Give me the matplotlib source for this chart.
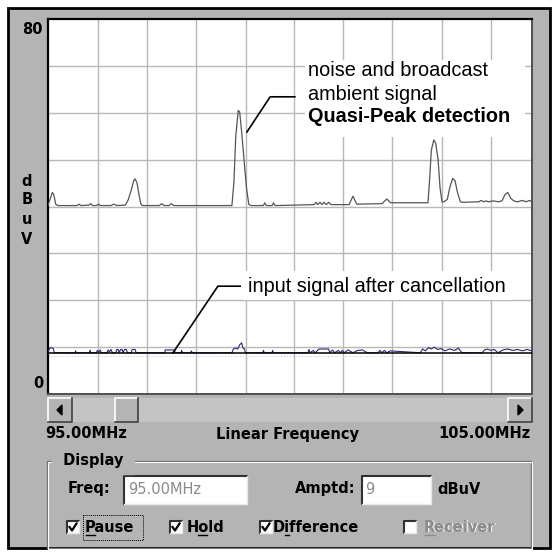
import matplotlib.pyplot as plt
from matplotlib.patches import Rectangle, Polygon

# ---- data (frequency in MHz, level in dBuV) ----
freq_upper = [95.00, 95.04, 95.09, 95.12, 95.16, 95.20, 95.60, 95.64, 95.68, 95.85,
              95.88, 95.92, 96.00, 96.05, 96.08, 96.30, 96.36, 96.42, 96.60, 96.66,
              96.72, 96.77, 96.80, 96.84, 96.88, 96.92, 96.95, 97.30, 97.35, 97.40,
              97.50, 97.55, 97.60, 98.80, 98.84, 98.88, 98.93, 98.96, 99.00, 99.05,
              99.10, 99.15, 99.20, 99.45, 99.48, 99.51, 99.63, 99.66, 99.69, 100.50,
              100.54, 100.57, 100.62, 100.66, 100.70, 100.75, 100.80, 100.85, 100.95, 101.22,
              101.30, 101.38, 101.90, 102.00, 102.08, 102.85, 102.88, 102.92, 102.97, 103.01,
              103.06, 103.10, 103.14, 103.18, 103.25, 103.30, 103.36, 103.41, 103.46, 103.52,
              103.57, 103.90, 103.95, 104.00, 104.05, 104.10, 104.20, 104.30, 104.38, 104.44,
              104.50, 104.56, 104.62, 104.70, 104.80, 104.88, 104.95, 105.00]
db_upper = [40.2, 41.5, 43.0, 42.5, 40.5, 40.2, 40.2, 40.5, 40.2, 40.3,
            40.6, 40.2, 40.2, 40.5, 40.2, 40.2, 40.5, 40.2, 40.3, 41.5,
            43.5, 45.5, 45.9, 45.0, 42.5, 40.5, 40.2, 40.2, 40.6, 40.2,
            40.2, 40.6, 40.2, 40.2, 45.0, 55.0, 60.5, 60.2, 56.0, 50.0,
            44.0, 40.4, 40.2, 40.2, 40.8, 40.2, 40.2, 40.8, 40.2, 40.4,
            40.9, 40.4, 40.9, 40.4, 40.9, 40.4, 40.9, 40.4, 40.4, 40.4,
            42.2, 40.5, 40.6, 41.6, 40.8, 40.8, 45.0, 52.0, 54.2, 53.5,
            50.0, 44.0, 41.0, 41.0, 41.5, 44.0, 46.0, 45.5, 43.0, 41.0,
            40.9, 41.0, 41.3, 41.0, 41.2, 41.0, 41.2, 41.0, 41.2, 42.5,
            43.0, 41.8, 41.2, 41.0, 41.3, 41.0, 41.3, 41.0]

freq_lower = [95.00, 95.03, 95.07, 95.11, 95.13, 95.56, 95.57, 95.58, 95.86, 95.87,
              95.88, 96.00, 96.02, 96.05, 96.08, 96.10, 96.22, 96.24, 96.27, 96.30,
              96.33, 96.40, 96.42, 96.45, 96.47, 96.50, 96.53, 96.55, 96.58, 96.62,
              96.64, 96.72, 96.74, 96.80, 96.82, 97.42, 97.42, 97.62, 97.62, 97.75,
              97.76, 97.78, 97.95, 97.96, 97.98, 98.80, 98.83, 98.88, 98.92, 98.96,
              99.00, 99.03, 99.06, 99.08, 99.44, 99.45, 99.47, 99.63, 99.64, 99.66,
              100.37, 100.39, 100.42, 100.48, 100.52, 100.58, 100.60, 100.80, 100.82, 100.88,
              100.92, 101.00, 101.04, 101.08, 101.12, 101.20, 101.30, 101.40, 101.50, 101.59,
              101.82, 101.86, 101.90, 101.95, 102.00, 102.07, 102.69, 102.74, 102.80, 102.86,
              102.92, 102.98, 103.05, 103.12, 103.20, 103.30, 103.40, 103.48, 103.55, 103.97,
              104.02, 104.08, 104.15, 104.22, 104.30, 104.40, 104.50, 104.60, 104.70, 104.80,
              104.90, 105.00]
db_lower = [8.8, 9.7, 9.9, 9.7, 8.8, 8.8, 9.2, 8.8, 8.8, 9.3,
            8.8, 8.8, 9.3, 9.0, 9.4, 8.8, 8.8, 9.4, 9.0, 9.5,
            8.8, 8.8, 9.5, 9.5, 8.8, 9.5, 9.5, 8.8, 9.5, 9.5,
            8.8, 8.8, 9.5, 9.5, 8.8, 8.8, 9.4, 9.4, 8.8, 8.8,
            9.3, 8.8, 8.8, 9.2, 8.8, 8.8, 9.6, 9.8, 9.6, 10.5,
            10.9, 9.8, 9.6, 8.8, 8.8, 9.3, 8.8, 8.8, 9.3, 8.8,
            8.8, 9.5, 8.8, 9.3, 8.8, 9.4, 9.6, 9.6, 8.8, 9.4,
            8.8, 9.3, 8.8, 9.3, 8.8, 9.4, 8.8, 9.3, 9.4, 8.8,
            8.8, 9.3, 8.8, 9.3, 8.8, 9.2, 8.8, 9.6, 9.2, 9.9,
            9.6, 10.0, 9.5, 9.7, 9.2, 9.6, 9.3, 9.8, 8.8, 8.8,
            9.4, 9.6, 9.3, 9.5, 8.8, 9.4, 9.6, 9.3, 9.5, 9.2,
            9.5, 9.2]
baseline_db = 8.8
grid_freqs = [96.03, 97.05, 98.06, 99.09, 100.08, 101.10, 102.11, 103.14, 104.15]
grid_db = [10, 20, 30, 40, 50, 60, 70]
f_start, f_stop = 95.0, 105.0
db_min, db_max = 0, 80

W, H = 558, 555
GREY = '#b4b4b4'
UI = 'DejaVu Sans'


def raised(ax, x, y, w, h, face=GREY):
    ax.add_patch(Rectangle((x, y), w, h, facecolor=face, edgecolor='none'))
    ax.plot([x, x, x + w], [y + h, y, y], color='white', lw=1.2)
    ax.plot([x, x + w, x + w], [y + h, y + h, y], color='#404040', lw=1.2)


def sunken(ax, x, y, w, h, face='white'):
    ax.add_patch(Rectangle((x, y), w, h, facecolor=face, edgecolor='none'))
    ax.plot([x, x, x + w], [y + h, y, y], color='#303030', lw=1.5)
    ax.plot([x, x + w, x + w], [y + h, y + h, y], color='#e8e8e8', lw=1.0)


fig = plt.figure(figsize=(W / 100, H / 100), dpi=100)
fig.patch.set_facecolor('white')

# window chrome in pixel coordinates
bg = fig.add_axes([0, 0, 1, 1])
bg.set_xlim(0, W)
bg.set_ylim(H, 0)
bg.axis('off')
bg.add_patch(Rectangle((8, 8), 542, 540, facecolor=GREY, edgecolor='black', lw=2))

# plot area
ax = fig.add_axes([48 / W, (H - 394) / H, 484 / W, 375 / H])
ax.set_xlim(f_start, f_stop)
ax.set_ylim(db_min, db_max)
ax.set_xticks([])
ax.set_yticks([])
for g in grid_freqs:
    ax.axvline(g, color='#b8b8b8', lw=1, zorder=1)
for g in grid_db:
    ax.axhline(g, color='#b8b8b8', lw=1, zorder=1)
for s in ['top', 'left']:
    ax.spines[s].set_color('black')
    ax.spines[s].set_linewidth(1.6)
for s in ['bottom', 'right']:
    ax.spines[s].set_color('#505050')
    ax.spines[s].set_linewidth(1.4)

ax.plot(freq_upper, db_upper, color='#555555', lw=0.9, zorder=3)
ax.plot(freq_lower, db_lower, color='#28286e', lw=0.8, zorder=3)
ax.axhline(baseline_db, color='black', lw=1.1, zorder=4)
ax.axhline(baseline_db - 0.6, color='#d0d0d0', lw=0.8, ls=':', zorder=2)

# callouts
ax.add_patch(Rectangle((100.31, 54.8), 4.55, 16.5, facecolor='white',
                       edgecolor='none', zorder=2))
ax.plot([99.11, 99.59, 100.10], [55.9, 63.4, 63.4], color='black', lw=1.2, zorder=5)
ax.text(100.37, 69.1, 'noise and broadcast', fontsize=14.3, va='center',
        family='Liberation Sans', zorder=6)
ax.text(100.37, 63.8, 'ambient signal', fontsize=14.3, va='center',
        family='Liberation Sans', zorder=6)
ax.text(100.37, 59.1, 'Quasi-Peak detection', fontsize=14.3, va='center',
        family='Liberation Sans', weight='bold', zorder=6)

ax.add_patch(Rectangle((99.03, 20.1), 5.56, 6.1, facecolor='white',
                       edgecolor='none', zorder=2))
ax.plot([97.58, 98.51, 98.97], [8.75, 23.0, 23.0], color='black', lw=1.2, zorder=5)
ax.text(99.13, 23.0, 'input signal after cancellation', fontsize=14.3, va='center',
        family='Liberation Sans', zorder=6)

# y labels
bg.text(43, 30, '80', ha='right', va='center', fontsize=10.5, weight='bold', family=UI)
bg.text(43, 383, '0', ha='right', va='center', fontsize=10.5, weight='bold', family=UI)
for ch, yy in zip('dBuV', [181, 200, 220, 239]):
    bg.text(27, yy, ch, ha='center', va='center', fontsize=10.5, weight='bold', family=UI)

# scrollbar
bg.add_patch(Rectangle((48, 398), 484, 24, facecolor='#c4c4c4', edgecolor='none'))
raised(bg, 48, 398, 24, 24)
raised(bg, 115, 398, 23, 24)
raised(bg, 508, 398, 24, 24)
bg.add_patch(Polygon([[57, 410], [62, 405], [62, 415]], color='black'))
bg.add_patch(Polygon([[523, 410], [518, 405], [518, 415]], color='black'))

bg.text(45, 434, '95.00MHz', ha='left', va='center', fontsize=10.5, weight='bold', family=UI)
bg.text(288, 434, 'Linear Frequency', ha='center', va='center', fontsize=10.5,
        weight='bold', family=UI)
bg.text(531, 434, '105.00MHz', ha='right', va='center', fontsize=10.5, weight='bold',
        family=UI)

# Display group box
bg.add_patch(Rectangle((47, 461), 484, 87, facecolor='none', edgecolor='#707070', lw=1))
bg.add_patch(Rectangle((48, 462), 484, 87, facecolor='none', edgecolor='white', lw=0.8))
bg.text(58, 461, ' Display ', ha='left', va='center', fontsize=10.5, weight='bold',
        family=UI, backgroundcolor=GREY)

bg.text(68, 489, 'Freq:', ha='left', va='center', fontsize=10.5, weight='bold', family=UI)
sunken(bg, 124, 476, 123, 28)
bg.text(128, 490, '95.00MHz', ha='left', va='center', fontsize=10.5, color='#8a8a8a',
        family=UI)
bg.text(295, 489, 'Amptd:', ha='left', va='center', fontsize=10.5, weight='bold', family=UI)
sunken(bg, 362, 476, 69, 28)
bg.text(365, 490, '9', ha='left', va='center', fontsize=10.5, color='#8a8a8a', family=UI)
bg.text(437, 489, 'dBuV', ha='left', va='center', fontsize=10.5, weight='bold', family=UI)

# checkboxes
boxes = [(67, 'Pause', True, 85), (170, 'Hold', True, 187),
         (260, 'Difference', True, 273), (404, 'Receiver', False, 424)]
for bx, label, checked, lx in boxes:
    sunken(bg, bx, 521, 12, 12)
    if checked:
        bg.plot([bx + 2.5, bx + 5, bx + 9.5], [527, 530.5, 523.5], color='black', lw=1.6)
    if label == 'Receiver':
        bg.text(lx + 1, 528, label, ha='left', va='center', fontsize=10.5, weight='bold',
                family=UI, color='white')
        bg.text(lx, 527, label, ha='left', va='center', fontsize=10.5, weight='bold',
                family=UI, color='#8c8c8c')
    else:
        bg.text(lx, 527, label, ha='left', va='center', fontsize=10.5, weight='bold',
                family=UI)
# mnemonic underlines
bg.plot([86, 95], [535, 535], color='black', lw=1)
bg.plot([198, 207], [535, 535], color='black', lw=1)
bg.plot([285, 289], [535, 535], color='black', lw=1)
bg.plot([425, 435], [535, 535], color='#8c8c8c', lw=1)
# focus rectangle
bg.add_patch(Rectangle((83, 515), 60, 25, facecolor='none', edgecolor='black',
                       lw=0.7, ls=(0, (1, 1))))

fig.savefig('out.png', dpi=100)
